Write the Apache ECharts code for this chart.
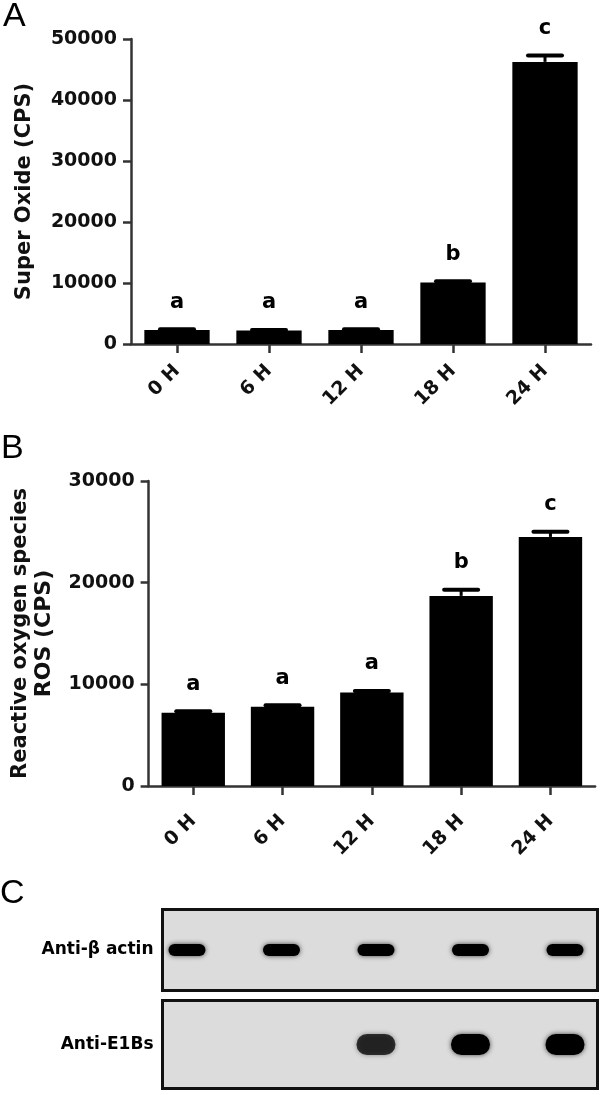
<!DOCTYPE html>
<html><head><meta charset="utf-8">
<script src="https://cdn.jsdelivr.net/npm/echarts@6/dist/echarts.min.js"></script>
<style>html,body{margin:0;padding:0;background:#fff}#c{width:600px;height:1095px}</style>
</head><body><div id="c"></div>
<script>
// ---- data ----
const categories = ['0 H', '6 H', '12 H', '18 H', '24 H'];
const superOxide = [2300, 2200, 2300, 10100, 46250];
const superOxideErr = [120, 100, 120, 200, 1050];
const superOxideLetters = ['a', 'a', 'a', 'b', 'c'];
const rosValues = [7200, 7800, 9200, 18700, 24500];
const rosErr = [150, 150, 150, 600, 500];
const rosLetters = ['a', 'a', 'a', 'b', 'c'];
const yTicksA = [0, 10000, 20000, 30000, 40000, 50000];
const yTicksB = [0, 10000, 20000, 30000];
const blotRows = ['Anti-β actin', 'Anti-E1Bs'];
const actinIntensity = [1, 1, 1, 1, 1];
const e1bsIntensity = [0, 0, 0.75, 1, 1];

const FONT = '"DejaVu Sans", sans-serif';
const axisColor = '#333';

function errSeries(gi, means, errs, letters) {
  return {
    type: 'custom', xAxisIndex: gi, yAxisIndex: gi, z: 5,
    data: means.map((m, i) => [i, m, errs[i]]),
    encode: { x: 0, y: 1 },
    renderItem: function (params, api) {
      const i = api.value(0), m = api.value(1), e = api.value(2);
      const base = api.coord([i, m]);
      const top = api.coord([i, m + e]);
      const hw = 17;
      return {
        type: 'group', children: [
          { type: 'line', shape: { x1: top[0], y1: base[1], x2: top[0], y2: top[1] }, style: { stroke: '#000', lineWidth: 3 } },
          { type: 'line', shape: { x1: top[0] - hw, y1: top[1], x2: top[0] + hw, y2: top[1] }, style: { stroke: '#000', lineWidth: 4, lineCap: 'round' } },
          { type: 'text', x: top[0], y: top[1] - 27, style: { text: letters[params.dataIndex], fill: '#000', font: 'bold 21px ' + FONT, align: 'center', verticalAlign: 'middle', textAlign: 'center', textVerticalAlign: 'middle' } }
        ]
      };
    }
  };
}

function barXAxis(gi, margin) {
  return {
    gridIndex: gi, type: 'category', data: categories, boundaryGap: true,
    axisLine: { show: true, lineStyle: { color: axisColor, width: 2.5 } },
    axisTick: { show: true, alignWithLabel: true, length: 9, lineStyle: { color: axisColor, width: 2.5 } },
    axisLabel: { rotate: 45, margin: margin, color: '#111', fontSize: 19, fontWeight: 'bold', fontFamily: FONT }
  };
}
function barYAxis(gi, ticks, name, gap, nameStyle) {
  return {
    gridIndex: gi, type: 'value', min: ticks[0], max: ticks[ticks.length - 1], interval: ticks[1] - ticks[0],
    name: name, nameLocation: 'middle', nameGap: gap,
    nameTextStyle: nameStyle,
    axisLine: { show: true, lineStyle: { color: axisColor, width: 2.5 } },
    axisTick: { show: true, length: 8, lineStyle: { color: axisColor, width: 2.5 } },
    splitLine: { show: false },
    axisLabel: { margin: 14, color: '#111', fontSize: 19, fontWeight: 'bold', fontFamily: FONT, formatter: v => String(v) }
  };
}
function blotXAxis(gi) {
  return { gridIndex: gi, type: 'value', min: -0.259, max: 4.344, show: false };
}
function blotYAxis(gi, label) {
  return {
    gridIndex: gi, type: 'category', data: [label],
    axisLine: { show: false }, axisTick: { show: false },
    axisLabel: { margin: 9, color: '#000', fontSize: 17, fontWeight: 'bold', fontFamily: FONT }
  };
}
function blotSeries(gi, intens, w, h) {
  return {
    type: 'custom', xAxisIndex: gi, yAxisIndex: gi,
    data: intens.map((v, i) => [i, 0, v]),
    encode: { x: 0, y: 1 },
    renderItem: function (params, api) {
      const lane = api.value(0), inten = api.value(2);
      if (!inten) return null;
      const c = api.coord([lane, 0]);
      return {
        type: 'rect',
        shape: { x: c[0] - w / 2, y: c[1] - h / 2, width: w, height: h, r: h / 2 },
        style: { fill: 'rgba(0,0,0,' + inten + ')', shadowBlur: 5, shadowColor: 'rgba(0,0,0,' + (0.7 * inten) + ')' }
      };
    }
  };
}

const letterStyle = { fontSize: 34, fontWeight: 'normal', color: '#000', fontFamily: '"Liberation Sans", Arial, sans-serif' };
const chart = echarts.init(document.getElementById('c'), null, { renderer: 'canvas' });
chart.setOption({
  animation: false,
  backgroundColor: '#fff',
  title: [
    { text: 'A', left: 3, top: 0, padding: 0, textStyle: letterStyle },
    { text: 'B', left: 1, top: 432, padding: 0, textStyle: letterStyle },
    { text: 'C', left: 0, top: 877, padding: 0, textStyle: letterStyle }
  ],
  grid: [
    { left: 131, top: 39, width: 460, height: 305 },
    { left: 148.6, top: 481, width: 446.5, height: 305 },
    { left: 162.5, top: 909.5, width: 435, height: 81, show: true, backgroundColor: '#dcdcdc', borderColor: '#111', borderWidth: 3 },
    { left: 162.5, top: 1000.5, width: 435, height: 88, show: true, backgroundColor: '#dcdcdc', borderColor: '#111', borderWidth: 3 }
  ],
  xAxis: [barXAxis(0, 24), barXAxis(1, 32), blotXAxis(2), blotXAxis(3)],
  yAxis: [
    barYAxis(0, yTicksA, 'Super Oxide (CPS)', 96,
      { color: '#111', fontSize: 21, fontWeight: 'bold', fontFamily: FONT }),
    barYAxis(1, yTicksB, '{l1|Reactive oxygen species}\n{l2|ROS (CPS)}', 92,
      { color: '#111', fontFamily: FONT, fontWeight: 'bold', lineHeight: 24,
        rich: { l1: { fontSize: 21, fontWeight: 'bold', fontFamily: FONT, color: '#111', lineHeight: 24 },
                l2: { fontSize: 22, fontWeight: 'bold', fontFamily: FONT, color: '#111', lineHeight: 24 } } }),
    blotYAxis(2, blotRows[0]),
    blotYAxis(3, blotRows[1])
  ],
  series: [
    { type: 'bar', xAxisIndex: 0, yAxisIndex: 0, data: superOxide, barWidth: '71%', itemStyle: { color: '#000' } },
    errSeries(0, superOxide, superOxideErr, superOxideLetters),
    { type: 'bar', xAxisIndex: 1, yAxisIndex: 1, data: rosValues, barWidth: '71%', itemStyle: { color: '#000' } },
    errSeries(1, rosValues, rosErr, rosLetters),
    blotSeries(2, actinIntensity, 37, 12),
    blotSeries(3, e1bsIntensity, 39, 21)
  ]
});
</script></body></html>
